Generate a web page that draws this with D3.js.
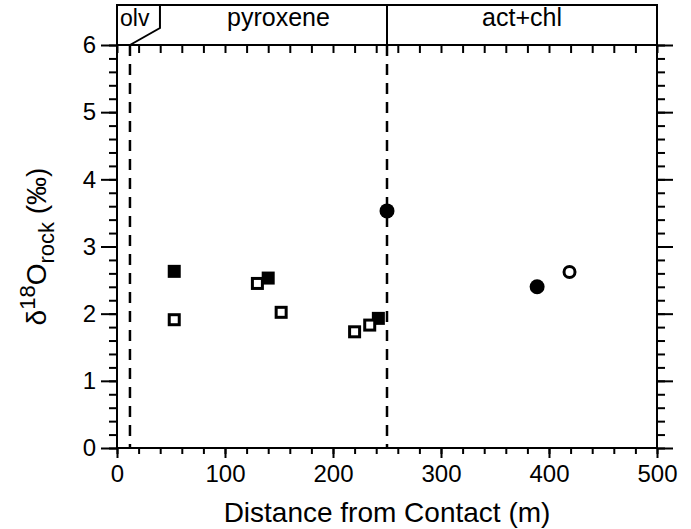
<!DOCTYPE html>
<html>
<head>
<meta charset="utf-8">
<script src="https://cdn.jsdelivr.net/npm/d3@7"></script>
<style>
body{margin:0;background:#fff}
text{font-family:"Liberation Sans",Arial,Helvetica,sans-serif;fill:#000}
</style>
</head>
<body>
<div id="chart"></div>
<script>
// data
var filledSqX = [53, 140, 242]
var filledSqY = [2.63, 2.53, 1.93]
var openSqX = [53, 130, 152, 220, 234]
var openSqY = [1.91, 2.45, 2.02, 1.73, 1.83]
var filledCircX = [250, 389]
var filledCircY = [3.53, 2.40]
var openCircX = [419]
var openCircY = [2.62]
var zoneNames = ["olv", "pyroxene", "act+chl"]
var zoneBounds = [12, 250]
var xTicks = [0, 100, 200, 300, 400, 500]
var yTicks = [0, 1, 2, 3, 4, 5, 6]

var width = 691, height = 529
var svg = d3.select("#chart").append("svg")
  .attr("width", width)
  .attr("height", height)

var x = d3.scaleLinear().domain([0, 500]).range([117, 657])
var y = d3.scaleLinear().domain([0, 6]).range([448, 45])

var xMinor = d3.range(0, 501, 20)
var yMinor = d3.range(0, 6.01, 0.2)

function styleAxis(g){
  g.select(".domain").remove()
  g.selectAll("line").attr("stroke", "#000").attr("stroke-width", 2)
  g.selectAll("text").style("font-size", "24px").attr("fill", "#000")
}

// bottom axis (outward ticks)
svg.append("g").attr("transform", "translate(0," + y(0) + ")")
  .call(d3.axisBottom(x).tickValues(xMinor).tickSize(6).tickFormat(""))
  .call(styleAxis)
svg.append("g").attr("transform", "translate(0," + y(0) + ")")
  .call(d3.axisBottom(x).tickValues(xTicks).tickSize(10).tickPadding(7).tickFormat(d3.format("d")))
  .call(styleAxis)
// top axis (inward ticks)
svg.append("g").attr("transform", "translate(0," + y(6) + ")")
  .call(d3.axisBottom(x).tickValues(xMinor).tickSize(8).tickFormat(""))
  .call(styleAxis)
// left axis (outward)
svg.append("g").attr("transform", "translate(" + x(0) + ",0)")
  .call(d3.axisLeft(y).tickValues(yMinor).tickSize(8).tickFormat(""))
  .call(styleAxis)
svg.append("g").attr("transform", "translate(" + x(0) + ",0)")
  .call(d3.axisLeft(y).tickValues(yTicks).tickSize(16).tickPadding(5).tickFormat(d3.format("d")))
  .call(styleAxis)
// right axis (outward)
svg.append("g").attr("transform", "translate(" + x(500) + ",0)")
  .call(d3.axisRight(y).tickValues(yMinor).tickSize(8).tickFormat(""))
  .call(styleAxis)
svg.append("g").attr("transform", "translate(" + x(500) + ",0)")
  .call(d3.axisRight(y).tickValues(yTicks).tickSize(16).tickFormat(""))
  .call(styleAxis)

// plot frame
svg.append("rect")
  .attr("x", x(0)).attr("y", y(6))
  .attr("width", x(500) - x(0)).attr("height", y(0) - y(6))
  .attr("fill", "none").attr("stroke", "#000").attr("stroke-width", 2)

// zone header box
var hTop = 5
svg.append("rect")
  .attr("x", x(0)).attr("y", hTop)
  .attr("width", x(500) - x(0)).attr("height", y(6) - hTop)
  .attr("fill", "none").attr("stroke", "#000").attr("stroke-width", 2)
svg.append("line")
  .attr("x1", x(zoneBounds[1])).attr("x2", x(zoneBounds[1]))
  .attr("y1", hTop).attr("y2", y(6))
  .attr("stroke", "#000").attr("stroke-width", 2)
svg.append("path")
  .attr("d", "M" + (x(zoneBounds[0]) + 30) + "," + hTop + " L" + (x(zoneBounds[0]) + 30) + "," + (hTop + 23) + " L" + x(zoneBounds[0]) + "," + y(6))
  .attr("fill", "none").attr("stroke", "#000").attr("stroke-width", 2)

svg.append("text").attr("x", x(0) + 3).attr("y", 26)
  .style("font-size", "23px").text(zoneNames[0])
svg.append("text").attr("x", (x(zoneBounds[0]) + 30 + x(zoneBounds[1])) / 2 + 5).attr("y", 26)
  .attr("text-anchor", "middle").style("font-size", "25px").text(zoneNames[1])
svg.append("text").attr("x", (x(zoneBounds[1]) + x(500)) / 2).attr("y", 26)
  .attr("text-anchor", "middle").style("font-size", "25px").text(zoneNames[2])

// dashed zone boundaries
svg.selectAll(".bound").data(zoneBounds).enter().append("line")
  .attr("class", "bound")
  .attr("x1", d => x(d)).attr("x2", d => x(d))
  .attr("y1", y(6)).attr("y2", y(0))
  .attr("stroke", "#000").attr("stroke-width", 2.5)
  .attr("stroke-dasharray", "11,8")

// markers
var sq = 13
svg.selectAll(".fsq").data(filledSqX).enter().append("rect")
  .attr("x", (d, i) => x(d) - sq / 2).attr("y", (d, i) => y(filledSqY[i]) - sq / 2)
  .attr("width", sq).attr("height", sq).attr("fill", "#000")
svg.selectAll(".osq").data(openSqX).enter().append("rect")
  .attr("x", (d, i) => x(d) - (sq - 3) / 2).attr("y", (d, i) => y(openSqY[i]) - (sq - 3) / 2)
  .attr("width", sq - 3).attr("height", sq - 3)
  .attr("fill", "#fff").attr("stroke", "#000").attr("stroke-width", 3)
svg.selectAll(".fci").data(filledCircX).enter().append("circle")
  .attr("cx", d => x(d)).attr("cy", (d, i) => y(filledCircY[i]))
  .attr("r", 7.5).attr("fill", "#000")
svg.selectAll(".oci").data(openCircX).enter().append("circle")
  .attr("cx", d => x(d)).attr("cy", (d, i) => y(openCircY[i]))
  .attr("r", 5.5).attr("fill", "#fff").attr("stroke", "#000").attr("stroke-width", 3)

// axis titles
svg.append("text")
  .attr("x", (x(0) + x(500)) / 2).attr("y", 522)
  .attr("text-anchor", "middle").style("font-size", "28px")
  .text("Distance from Contact (m)")

var yl = svg.append("text")
  .attr("transform", "translate(46," + ((y(0) + y(6)) / 2) + ") rotate(-90)")
  .attr("text-anchor", "middle").style("font-size", "28px")
yl.append("tspan").text("δ")
yl.append("tspan").attr("dy", -11).style("font-size", "22px").text("18")
yl.append("tspan").attr("dy", 11).text("O")
yl.append("tspan").attr("dy", 8).style("font-size", "22px").text("rock")
yl.append("tspan").attr("dy", -8).text(" (‰)")
</script>
</body>
</html>
